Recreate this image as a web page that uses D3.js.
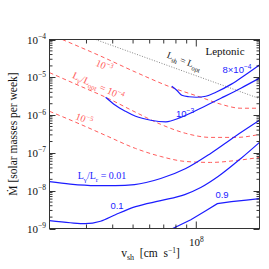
<!DOCTYPE html>
<html>
<head>
<meta charset="utf-8">
<script src="https://cdn.jsdelivr.net/npm/d3@7/dist/d3.min.js"></script>
<style>
  body { margin: 0; background: #fff; }
  svg { display: block; font-family: "Liberation Serif", "DejaVu Serif", serif; }
</style>
</head>
<body>
<svg id="chart" width="269" height="269"></svg>
<script>
// ---- data: [shock velocity cm/s, Mdot in solar masses per week] ----
// red dashed: L_gamma / L_opt contours
const optRatio1e3 = [[2.30e7, 1e-4], [3.50e7, 3.65e-5], [5.14e7, 1.37e-5], [7.56e7, 5.5e-6],
  [1.05e8, 2.97e-6], [1.31e8, 1.94e-6], [1.63e8, 1.52e-6], [2.0e8, 1.52e-6]];
const optRatio1e4 = [[2.0e7, 1.33e-5], [2.81e7, 5.8e-6], [3.70e7, 2.97e-6], [5.14e7, 1.19e-6],
  [6.77e7, 5.7e-7], [8.91e7, 3.29e-7], [1.17e8, 2.57e-7], [1.55e8, 2.57e-7], [2.0e8, 3.09e-7]];
const optRatio1e5 = [[2.0e7, 1.26e-6], [2.81e7, 5.7e-7], [3.70e7, 2.9e-7], [5.14e7, 1.31e-7],
  [6.77e7, 8.05e-8], [8.91e7, 5.93e-8], [1.17e8, 5.6e-8], [1.55e8, 6.3e-8], [2.0e8, 7.6e-8]];

// blue solid: L_gamma / L_r contours
const ratio8e4 = [[7.64e7, 5.8e-6], [8.07e7, 4.56e-6], [8.53e7, 3.36e-6], [9.22e7, 3.06e-6],
  [1.0e8, 2.97e-6], [1.11e8, 3.16e-6], [1.24e8, 4.04e-6], [1.47e8, 6.6e-6], [1.73e8, 1.21e-5], [2.0e8, 2.10e-5]];
const ratio1e3 = [[3.70e7, 2.97e-6], [4.12e7, 1.82e-6], [4.60e7, 1.26e-6], [5.14e7, 9.3e-7],
  [6.07e7, 7.3e-7], [7.16e7, 6.64e-7], [8.44e7, 8.7e-7], [1.05e8, 1.52e-6], [1.31e8, 2.79e-6],
  [1.63e8, 5.15e-6], [2.0e8, 9.5e-6]];
const ratio1e2 = [[2.0e7, 1.74e-8], [2.51e7, 1.50e-8], [3.31e7, 1.37e-8], [4.12e7, 1.37e-8],
  [5.08e7, 1.45e-8], [6.77e7, 2.10e-8], [8.91e7, 3.86e-8], [1.17e8, 9.7e-8], [1.53e8, 2.73e-7], [2.0e8, 7.3e-7]];
const ratio1e1 = [[2.0e7, 1.61e-9], [2.51e7, 1.42e-9], [2.96e7, 1.34e-9], [3.50e7, 1.56e-9],
  [4.12e7, 2.32e-9], [5.14e7, 3.78e-9], [6.77e7, 5.46e-9], [8.81e7, 7.87e-9], [1.05e8, 1.21e-8],
  [1.27e8, 2.37e-8], [1.63e8, 7.1e-8], [2.0e8, 1.90e-7]];
const ratio9e1 = [[7.72e7, 1.0e-9], [9.42e7, 1.71e-9], [1.11e8, 2.96e-9], [1.26e8, 4.54e-9],
  [1.47e8, 5.13e-9], [1.73e8, 5.62e-9], [2.0e8, 6.17e-9]];

// grey dotted: L_sh = L_opt
const shEqualsOpt = [[3.31e7, 1e-4], [2.0e8, 2.74e-6]];

// axis ticks
const yMajorTicks = [1e-4, 1e-5, 1e-6, 1e-7, 1e-8, 1e-9];
const yTickExps = ["\u22124", "\u22125", "\u22126", "\u22127", "\u22128", "\u22129"];
const xMajorTicks = [1e8];
const xTickExps = ["8"];
const xMinorTicks = [3e7, 4e7, 5e7, 6e7, 7e7, 8e7, 9e7];

// ---- layout ----
const frame = { l: 49.5, r: 259.5, t: 39.5, b: 228.5 };
const RED = '#ff5c5c', BLUE = '#1c1cff';
const SANS = '"Liberation Sans", Arial, sans-serif';

const svg = d3.select('#chart');
const x = d3.scaleLog().domain([2e7, 2e8]).range([frame.l, frame.r]);
const y = d3.scaleLog().domain([1e-9, 1e-4]).range([frame.b, frame.t]);

svg.append('defs').append('clipPath').attr('id', 'plot-clip')
  .append('rect')
  .attr('x', frame.l).attr('y', frame.t)
  .attr('width', frame.r - frame.l).attr('height', frame.b - frame.t);

const line = d3.line().x(d => x(d[0])).y(d => y(d[1])).curve(d3.curveMonotoneX);
const plot = svg.append('g').attr('clip-path', 'url(#plot-clip)');

// dotted equality line
plot.append('path').attr('d', line(shEqualsOpt))
  .attr('fill', 'none').attr('stroke', '#777').attr('stroke-width', 0.9)
  .attr('stroke-dasharray', '1,1.6');

// red dashed contours
[optRatio1e3, optRatio1e4, optRatio1e5].forEach(d => {
  plot.append('path').attr('d', line(d))
    .attr('fill', 'none').attr('stroke', RED).attr('stroke-width', 1)
    .attr('stroke-dasharray', '4,3');
});

// blue solid contours
[ratio8e4, ratio1e3, ratio1e2, ratio1e1].forEach(d => {
  plot.append('path').attr('d', line(d))
    .attr('fill', 'none').attr('stroke', BLUE).attr('stroke-width', 1.2);
});
// the 0.9 contour has a sharp knee, keep it linear
plot.append('path').attr('d', d3.line().x(d => x(d[0])).y(d => y(d[1]))(ratio9e1))
  .attr('fill', 'none').attr('stroke', BLUE).attr('stroke-width', 1.2);

// ---- ticks (inward, all four sides) ----
const ticks = svg.append('g').attr('stroke', '#000').attr('stroke-width', 0.8);
yMajorTicks.forEach(v => {
  const yy = Math.round(y(v)) + 0.5;
  ticks.append('line').attr('x1', frame.l).attr('x2', frame.l + 6).attr('y1', yy).attr('y2', yy);
  ticks.append('line').attr('x1', frame.r).attr('x2', frame.r - 6).attr('y1', yy).attr('y2', yy);
});
yMajorTicks.slice(1).forEach(v => {
  d3.range(2, 10).forEach(k => {
    const yy = y(v * k);
    ticks.append('line').attr('x1', frame.l).attr('x2', frame.l + 3).attr('y1', yy).attr('y2', yy);
    ticks.append('line').attr('x1', frame.r).attr('x2', frame.r - 3).attr('y1', yy).attr('y2', yy);
  });
});
xMinorTicks.forEach(v => {
  const xx = x(v);
  ticks.append('line').attr('x1', xx).attr('x2', xx).attr('y1', frame.b).attr('y2', frame.b - 4);
  ticks.append('line').attr('x1', xx).attr('x2', xx).attr('y1', frame.t).attr('y2', frame.t + 4);
});
xMajorTicks.forEach(v => {
  const xx = x(v);
  ticks.append('line').attr('x1', xx).attr('x2', xx).attr('y1', frame.b).attr('y2', frame.b - 7);
  ticks.append('line').attr('x1', xx).attr('x2', xx).attr('y1', frame.t).attr('y2', frame.t + 7);
});

// frame
svg.append('rect')
  .attr('x', frame.l).attr('y', frame.t)
  .attr('width', frame.r - frame.l).attr('height', frame.b - frame.t)
  .attr('fill', 'none').attr('stroke', '#333').attr('stroke-width', 1);

// ---- tick labels ----
function powerLabel(g, px, py, exp, anchor) {
  const t = g.append('text').attr('x', px).attr('y', py)
    .attr('text-anchor', anchor).attr('font-size', 11).attr('fill', '#111');
  t.append('tspan').text('10');
  t.append('tspan').attr('dy', -4.5).attr('font-size', 7.5).text(exp);
  return t;
}
yMajorTicks.forEach((v, i) => powerLabel(svg, 46, y(v) + 4, yTickExps[i], 'end'));
xMajorTicks.forEach((v, i) => powerLabel(svg, x(v), 246, xTickExps[i], 'middle'));

// ---- axis titles ----
svg.append('text')
  .attr('transform', `translate(17,${(frame.t + frame.b) / 2}) rotate(-90)`)
  .attr('text-anchor', 'middle').attr('font-size', 11.5).attr('fill', '#111')
  .text('M\u0307 [solar masses per week]');

const xt = svg.append('text').attr('x', (frame.l + frame.r) / 2 - 4).attr('y', 257)
  .attr('text-anchor', 'middle').attr('font-size', 11.5).attr('fill', '#111')
  .attr('xml:space', 'preserve');
xt.append('tspan').text('v');
xt.append('tspan').attr('dy', 3).attr('font-size', 8).text('sh');
xt.append('tspan').attr('dy', -3).text('  [cm  s');
xt.append('tspan').attr('dy', -4.5).attr('font-size', 7.5).text('\u22121');
xt.append('tspan').attr('dy', 4.5).text(']');

// ---- annotations ----
// text made of [string, shift] pieces: shift 0 normal, -1 sub, +1 sup
function richText(px, py, pieces, color, rot, size, family) {
  const t = svg.append('text')
    .attr('transform', `translate(${px},${py}) rotate(${rot})`)
    .attr('text-anchor', 'middle').attr('font-size', size).attr('fill', color)
    .attr('xml:space', 'preserve');
  if (family) t.attr('font-family', family);
  let level = 0;
  pieces.forEach(([s, lv]) => {
    const off = lv === -1 ? 2.5 : lv === 1 ? -4 : 0;
    const prev = level === -1 ? 2.5 : level === 1 ? -4 : 0;
    const ts = t.append('tspan').attr('dy', off - prev).text(s);
    if (lv !== 0) ts.attr('font-size', size * 0.7);
    level = lv;
  });
  return t;
}

// red labels
richText(103, 69, [['10', 0], ['\u22123', 1]], RED, 23, 10);
richText(97, 89, [['L', 0], ['\u03b3', -1], ['/L', 0], ['opt', -1], [' = 10', 0], ['\u22124', 1]], RED, 24, 10);
richText(83, 122, [['10', 0], ['\u22125', 1]], RED, 21, 10);

// dotted equality label
richText(183, 64, [['L', 0], ['sh', -1], [' = L', 0], ['opt', -1]], '#111', 21, 9.5);

// blue labels
richText(237, 73, [['8\u00d710', 0], ['\u22124', 1]], BLUE, 0, 9.5, SANS);
richText(185, 117, [['10', 0], ['\u22123', 1]], BLUE, 0, 9.5, SANS);
richText(102, 179, [['L', 0], ['\u03b3', -1], ['/L', 0], ['r', -1], [' = 0.01', 0]], BLUE, 0, 10);
richText(117, 209, [['0.1', 0]], BLUE, 0, 9.5, SANS);
richText(222, 198, [['0.9', 0]], BLUE, 0, 9.5, SANS);

svg.append('text').attr('x', 225).attr('y', 55).attr('text-anchor', 'middle')
  .attr('font-size', 11).attr('fill', '#111').text('Leptonic');
</script>
</body>
</html>
